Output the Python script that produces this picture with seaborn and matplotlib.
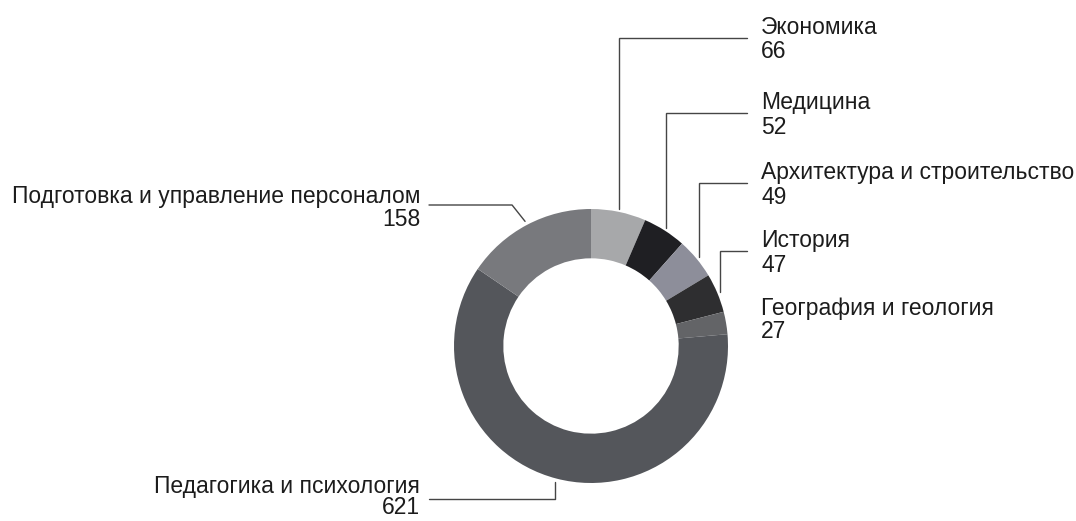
import numpy as np
import matplotlib
matplotlib.use("Agg")
import matplotlib.pyplot as plt
import seaborn as sns

# ── данные ────────────────────────────────────────────────────────────────────

categories = ["Экономика", "Медицина", "Архитектура и строительство", "История",
              "География и геология", "Педагогика и психология",
              "Подготовка и управление персоналом"]
counts = [66, 52, 49, 47, 27, 621, 158]
colors = ["#a7a8aa", "#1f1f23", "#8d8e9a", "#2e2e30",
          "#636467", "#54565b", "#78797d"]

# ── раскладка (пиксели, отсчёт сверху) ────────────────────────────────────────

W, H = 1076, 521
CX, CY, R = 591, 346, 137
RING = 0.36
FS = 16.5
TXT = "#1c1c1c"
LINE = "#454545"

right_x = 761
right_name_y = [28, 103, 173, 241, 308]
line_end_x = 747
left_x = 420
left_name_y = {5: 486, 6: 196}
left_num_gap = {5: 22, 6: 24}
left_line_y = {5: 499, 6: 205}
left_line_x = 429
num_gap = 24


def fy(y):
    return H - y


sns.set_theme(style="white")
plt.rcParams["font.family"] = ["Liberation Sans", "DejaVu Sans"]

fig = plt.figure(figsize=(W / 100, H / 100), dpi=100)
ax = fig.add_axes([0, 0, 1, 1])

wedges, _ = ax.pie(counts, colors=colors, startangle=90, counterclock=False,
                   radius=R, center=(CX, fy(CY)),
                   wedgeprops=dict(width=R * RING, linewidth=0))
ax.set_xlim(0, W)
ax.set_ylim(0, H)
ax.set_aspect("equal")
ax.axis("off")


def anchor(w, r):
    a = np.deg2rad((w.theta1 + w.theta2) / 2)
    return CX + r * np.cos(a), fy(CY) + r * np.sin(a)


# правые подписи
for i in range(5):
    y = right_name_y[i]
    ax.text(right_x, fy(y), categories[i], fontsize=FS, color=TXT,
            ha="left", va="center")
    ax.text(right_x, fy(y + num_gap), str(counts[i]), fontsize=FS, color=TXT,
            ha="left", va="center")
    if i < 4:
        x0, y0 = anchor(wedges[i], R + 3)
        ly = fy(y + 10)
        ax.plot([x0, x0, line_end_x], [y0, ly, ly], color=LINE, lw=1.0,
                solid_joinstyle="miter")

# левые подписи
for i in (5, 6):
    y = left_name_y[i]
    ax.text(left_x, fy(y), categories[i], fontsize=FS, color=TXT,
            ha="right", va="center")
    ax.text(left_x, fy(y + left_num_gap[i]), str(counts[i]), fontsize=FS,
            color=TXT, ha="right", va="center")
    x0, y0 = anchor(wedges[i], R + 4)
    ly = fy(left_line_y[i])
    if i == 5:
        ax.plot([x0, x0, left_line_x], [y0, ly, ly], color=LINE, lw=1.0)
    else:
        ax.plot([x0, x0 - 13, left_line_x], [y0, ly, ly], color=LINE, lw=1.0)

fig.savefig("out.png", dpi=100, facecolor="white")
